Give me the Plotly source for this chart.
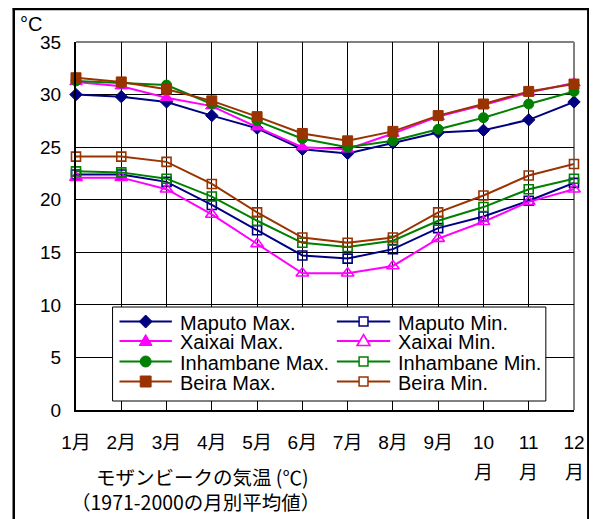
import plotly.graph_objects as go

# ---------------- data ----------------
months = list(range(1, 13))
month_labels = ["1月", "2月", "3月", "4月", "5月", "6月", "7月", "8月", "9月", "10月", "11月", "12月"]
y_tick_values = [0, 5, 10, 15, 20, 25, 30, 35]

maputo_max = [30.0, 29.8, 29.3, 28.0, 26.8, 24.8, 24.4, 25.4, 26.4, 26.6, 27.6, 29.3]
maputo_min = [22.4, 22.4, 21.7, 19.5, 17.1, 14.7, 14.4, 15.3, 17.3, 18.4, 19.9, 21.6]
xaixai_max = [31.2, 30.8, 29.7, 28.9, 26.9, 25.0, 24.8, 26.3, 27.9, 29.0, 30.2, 31.1]
xaixai_min = [22.1, 22.1, 21.0, 18.6, 15.8, 13.0, 13.0, 13.7, 16.3, 17.9, 19.8, 21.0]
inhambane_max = [31.3, 31.1, 30.9, 29.1, 27.5, 25.8, 25.0, 25.6, 26.7, 27.8, 29.1, 30.3]
inhambane_min = [22.7, 22.6, 22.0, 20.3, 18.0, 15.9, 15.5, 16.1, 18.0, 19.3, 21.0, 22.0]
beira_max = [31.6, 31.2, 30.5, 29.4, 27.9, 26.3, 25.6, 26.5, 28.0, 29.1, 30.3, 31.0]
beira_min = [24.1, 24.1, 23.6, 21.5, 18.8, 16.4, 15.9, 16.4, 18.8, 20.4, 22.3, 23.4]

series_names = ["Maputo Max.", "Maputo Min.", "Xaixai Max.", "Xaixai Min.",
                "Inhambane Max.", "Inhambane Min.", "Beira Max.", "Beira Min."]
series_values = [maputo_max, maputo_min, xaixai_max, xaixai_min,
                 inhambane_max, inhambane_min, beira_max, beira_min]

title_line1 = "モザンビークの気温 (℃)"
title_line2 = "（1971-2000の月別平均値）"
unit_label = "°C"

# ---------------- styles ----------------
NAVY, MAGENTA, GREEN, BROWN = "#000080", "#FF00FF", "#008000", "#993300"
styles = [
    dict(color=NAVY, symbol="diamond", size=9.5, filled=True),
    dict(color=NAVY, symbol="square-open", size=9, filled=False),
    dict(color=MAGENTA, symbol="triangle-up", size=11, filled=True),
    dict(color=MAGENTA, symbol="triangle-up-open", size=11, filled=False),
    dict(color=GREEN, symbol="circle", size=10, filled=True),
    dict(color=GREEN, symbol="square-open", size=9, filled=False),
    dict(color=BROWN, symbol="square", size=10, filled=True),
    dict(color=BROWN, symbol="square-open", size=9, filled=False),
]

# page body has an 8px margin: work in reference pixels, shrink the figure
OFF = 8
W, H = 597 - OFF, 519 - OFF
PLOT_L, PLOT_R, PLOT_T, PLOT_B = 76, 580, 42, 410   # reference pixels
L, T = PLOT_L - OFF, PLOT_T - OFF
R, B = W - (PLOT_R - OFF), H - (PLOT_B - OFF)
PW, PH = PLOT_R - PLOT_L, PLOT_B - PLOT_T


def px(x):
    return (x - PLOT_L) / PW


def py(y):
    return (PLOT_B - y) / PH


LATIN = "Liberation Sans, Arial, Noto Sans CJK JP"
CJK = "Noto Sans CJK JP, Liberation Sans"

fig = go.Figure()
for name, vals, st in zip(series_names, series_values, styles):
    fig.add_trace(go.Scatter(
        x=months, y=vals, name=name, mode="lines+markers",
        line=dict(color=st["color"], width=2),
        marker=dict(symbol=st["symbol"], size=st["size"], color=st["color"],
                    line=dict(color=st["color"], width=1 if st["filled"] else 1.6)),
        cliponaxis=False, showlegend=False,
    ))

tick_text = [lab if len(lab) <= 2 else lab[:-1] for lab in month_labels]

shapes = []
annotations = []

# wrapped second line of long month labels
for m, lab in zip(months, month_labels):
    if len(lab) > 2:
        annotations.append(dict(x=m, y=py(471), xref="x", yref="paper", text=lab[-1],
                                showarrow=False, xanchor="center", yanchor="middle",
                                font=dict(family=CJK, size=19, color="black")))

# plot area grey border (top / right)
shapes.append(dict(type="line", xref="paper", yref="paper", x0=0, x1=1, y0=1, y1=1,
                   line=dict(color="#808080", width=2), layer="between"))
shapes.append(dict(type="line", xref="paper", yref="paper", x0=1, x1=1, y0=0, y1=1,
                   line=dict(color="#808080", width=2), layer="between"))

# outer frame (four separate edges)
FR_L, FR_R, FR_T, FR_B = 13, 594.5, 9, 560
frame_line = dict(color="black", width=2.5)
shapes.append(dict(type="line", xref="paper", yref="paper", x0=px(FR_L), x1=px(FR_L),
                   y0=py(FR_B), y1=py(FR_T - 1), line=frame_line, layer="above"))
shapes.append(dict(type="line", xref="paper", yref="paper", x0=px(FR_R), x1=px(FR_R),
                   y0=py(FR_B), y1=py(FR_T - 1), line=frame_line, layer="above"))
shapes.append(dict(type="line", xref="paper", yref="paper", x0=px(FR_L - 1), x1=px(FR_R + 1),
                   y0=py(FR_T), y1=py(FR_T), line=frame_line, layer="above"))

# legend box
shapes.append(dict(type="rect", xref="paper", yref="paper", x0=px(113), x1=px(551.5),
                   y0=py(401), y1=py(307), line=dict(color="black", width=1),
                   fillcolor="white", layer="above"))

col_x = [(120, 173, 146.5, 179), (340, 394, 367, 400)]
row_y = [321.5, 341, 361.5, 381.5]


def P(x, y):
    return "%f %f" % (px(x), py(y))


def marker_shape(sym, cx, cy, color):
    if sym == "diamond":
        d = 6.5
        path = "M %s L %s L %s L %s Z" % (P(cx - d, cy), P(cx, cy - d), P(cx + d, cy), P(cx, cy + d))
        return dict(type="path", path=path, fillcolor=color, line=dict(color=color, width=1))
    if sym == "triangle-up":
        path = "M %s L %s L %s Z" % (P(cx - 6.5, cy + 4.5), P(cx + 6.5, cy + 4.5), P(cx, cy - 6.5))
        return dict(type="path", path=path, fillcolor=color, line=dict(color=color, width=1))
    if sym == "triangle-up-open":
        path = "M %s L %s L %s Z" % (P(cx - 6.5, cy + 4.5), P(cx + 6.5, cy + 4.5), P(cx, cy - 6.5))
        return dict(type="path", path=path, fillcolor="white", line=dict(color=color, width=1.6))
    if sym == "circle":
        r = 5.5
        return dict(type="circle", x0=px(cx - r), x1=px(cx + r), y0=py(cy + r), y1=py(cy - r),
                    fillcolor=color, line=dict(color=color, width=1))
    if sym == "square":
        r = 5.5
        return dict(type="rect", x0=px(cx - r), x1=px(cx + r), y0=py(cy + r), y1=py(cy - r),
                    fillcolor=color, line=dict(color=color, width=1))
    r = 4.5
    return dict(type="rect", x0=px(cx - r), x1=px(cx + r), y0=py(cy + r), y1=py(cy - r),
                fillcolor="white", line=dict(color=color, width=1.5))


for i, (name, st) in enumerate(zip(series_names, styles)):
    row, col = i // 2, i % 2
    x0, x1, xm, xt = col_x[col]
    yy = row_y[row]
    shapes.append(dict(type="line", xref="paper", yref="paper", x0=px(x0), x1=px(x1),
                       y0=py(yy), y1=py(yy), line=dict(color=st["color"], width=2), layer="above"))
    ms = marker_shape(st["symbol"], xm, yy, st["color"])
    ms.update(xref="paper", yref="paper", layer="above")
    shapes.append(ms)
    annotations.append(dict(x=px(xt), y=py(yy + 1), xref="paper", yref="paper", text=name,
                            showarrow=False, xanchor="left", yanchor="middle",
                            font=dict(family=LATIN, size=20, color="black")))

# unit label and bottom titles
annotations.append(dict(x=px(17), y=py(24), xref="paper", yref="paper", text=unit_label,
                        showarrow=False, xanchor="left", yanchor="middle",
                        font=dict(family=LATIN, size=20, color="black")))
annotations.append(dict(x=px(204), y=py(476), xref="paper", yref="paper", text=title_line1,
                        showarrow=False, xanchor="center", yanchor="middle",
                        font=dict(family=CJK, size=19.5, color="black")))
annotations.append(dict(x=px(197), y=py(501), xref="paper", yref="paper", text=title_line2,
                        showarrow=False, xanchor="center", yanchor="middle",
                        font=dict(family=CJK, size=19.5, color="black")))

fig.update_layout(
    width=W, height=H,
    margin=dict(l=L, r=R, t=T, b=B, pad=0),
    paper_bgcolor="white", plot_bgcolor="white",
    showlegend=False,
    shapes=shapes, annotations=annotations,
    xaxis=dict(range=[1, 12], tickmode="array", tickvals=months, ticktext=tick_text,
               showgrid=True, gridcolor="black", gridwidth=1,
               showline=True, linecolor="black", linewidth=2, zeroline=False,
               ticks="", ticklabelstandoff=14,
               tickfont=dict(family="Liberation Sans, Noto Sans CJK JP", size=19, color="black")),
    yaxis=dict(range=[0, 35], tickmode="array", tickvals=y_tick_values,
               showgrid=True, gridcolor="black", gridwidth=1,
               showline=True, linecolor="black", linewidth=2, zeroline=False,
               ticks="", ticklabelstandoff=9,
               tickfont=dict(family=LATIN, size=19, color="black")),
)

fig.write_html("out.html")
